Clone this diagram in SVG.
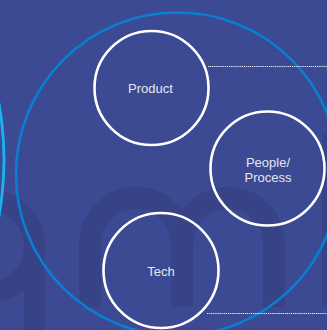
<svg xmlns="http://www.w3.org/2000/svg" width="327" height="330" viewBox="0 0 327 330">
<style>
.wm{fill:none;stroke:#374386;stroke-width:22}
.wmf{fill:#374386}
.node{fill:none;stroke:#ffffff;stroke-width:2.6}
.lbl{font-family:"Liberation Sans",Arial,sans-serif;font-size:13px;fill:#e4e6f0;text-anchor:middle}
.dot{stroke:#ffffff;stroke-width:1;stroke-dasharray:1.2 0.9;opacity:0.95}
</style>
<rect width="327" height="330" fill="#3b4a93"/>
<g id="watermark">
<circle cx="-12" cy="246" r="46.5" fill="none" stroke="#374386" stroke-width="21"/>
<rect class="wmf" x="24" y="246" width="21" height="90"/>
<path class="wm" d="M90,307 V244 A46,46 0 0 1 182,244 V307 M182,244 A46,46 0 0 1 274,244 V307"/>
<rect class="wmf" x="322" y="133" width="10" height="174"/>
</g>
<g id="rings">
<circle cx="-310" cy="160" r="314" fill="none" stroke="#17b3f0" stroke-width="2.8"/>
<circle cx="177.5" cy="174" r="161.5" fill="none" stroke="#0a7fd2" stroke-width="2.6"/>
</g>
<g id="connectors">
<line class="dot" x1="208" y1="66.5" x2="327" y2="66.5"/>
<line class="dot" x1="207" y1="313.5" x2="327" y2="313.5"/>
</g>
<g id="product">
<circle class="node" cx="151.5" cy="88" r="57"/>
<text class="lbl" x="150.5" y="93">Product</text>
</g>
<g id="people-process">
<circle class="node" cx="267.5" cy="168.5" r="57"/>
<text class="lbl" x="268" y="166.5">People/</text>
<text class="lbl" x="268" y="182.3">Process</text>
</g>
<g id="tech">
<circle class="node" cx="161" cy="270.5" r="57.5"/>
<text class="lbl" x="161" y="276">Tech</text>
</g>
</svg>
